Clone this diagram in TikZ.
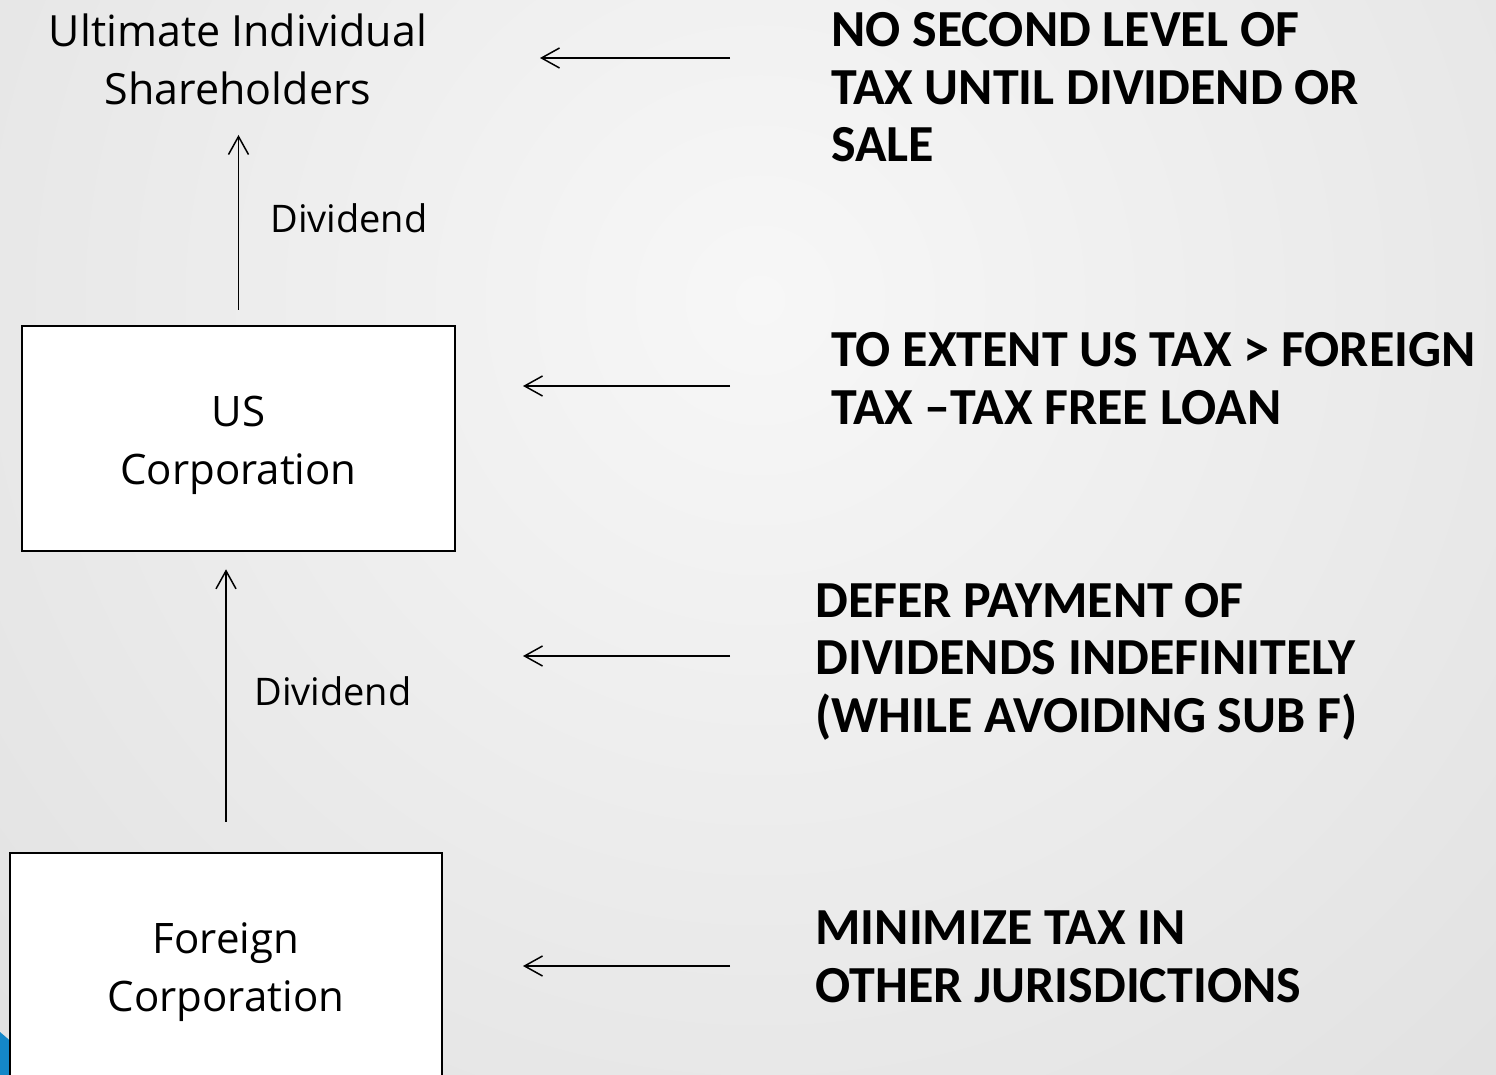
\documentclass[tikz,border=0pt]{standalone}
\usepackage{fontspec}
\setmainfont{Open Sans}
\newfontfamily\headfont{Carlito}
\usetikzlibrary{arrows.meta}
\definecolor{bgin}{HTML}{F7F7F7}
\definecolor{bgout}{HTML}{CFCFCF}
\definecolor{accent}{HTML}{1487C8}
\begin{document}
\begin{tikzpicture}[x=0.5pt,y=-0.5pt,
  entity/.style={draw=black,line width=1.3pt,fill=white,align=center,inner sep=0pt,
    font=\fontsize{21}{29}\selectfont},
  flow/.style={line width=0.75pt,-{Straight Barb[length=9pt,width=10pt]}},
  flowtext/.style={anchor=west,inner sep=0pt,font=\fontsize{19}{23}\selectfont},
  point/.style={anchor=north west,align=left,inner sep=0pt,
    font=\headfont\bfseries\fontsize{26}{28.75}\selectfont}]

% page and soft radial background
\path[use as bounding box] (0,0) rectangle (1496,1075);
\begin{scope}
  \clip (0,0) rectangle (1496,1075);
  \shade[inner color=bgin,outer color=bgout] (760,300) circle (1000pt);
  \fill[accent] (0,1032) -- (50,1075) -- (0,1075) -- cycle;
\end{scope}

% ownership chain
\node[align=center,inner sep=0pt,font=\fontsize{21.5}{29}\selectfont] (ush) at (238,59)
  {Ultimate Individual\\Shareholders};
\node[entity,minimum width=216.5pt,minimum height=112.5pt] (usc) at (238.5,438.5)
  {\rule{0pt}{22pt}US\\Corporation};
\node[entity,minimum width=216pt,minimum height=114pt] (fc) at (226,967)
  {\rule{0pt}{21pt}Foreign\\Corporation};

\coordinate (tip1) at (238.5,135);
\draw[flow] ([yshift=7.5pt]usc.north) -- (tip1);
\node[flowtext] (div1) at (270,218) {Dividend};

\draw[flow] ([yshift=15pt]fc.north) -- ([yshift=-8.5pt]fc.north |- usc.south);
\node[flowtext] (div2) at (254,691) {Dividend};

% consequences at each level
\node[point] (rt1) at (831,12.5) {NO SECOND LEVEL OF\\TAX UNTIL DIVIDEND OR\\SALE};
\node[point] (rt2) at (831,332.5) {TO EXTENT US TAX > FOREIGN\\TAX –TAX FREE LOAN};
\node[point] (rt3) at (815,582.5) {DEFER PAYMENT OF\\DIVIDENDS INDEFINITELY\\(WHILE AVOIDING SUB F)};
\node[point] (rt4) at (815,910.5) {MINIMIZE TAX IN\\OTHER JURISDICTIONS};

\coordinate (h1a) at (730,58);  \coordinate (h1b) at (540,58);
\coordinate (h2a) at (730,386); \coordinate (h2b) at (523,386);
\coordinate (h3a) at (730,656); \coordinate (h3b) at (523,656);
\coordinate (h4a) at (730,966); \coordinate (h4b) at (523,966);
\draw[flow] (h1a) -- (h1b);
\draw[flow] (h2a) -- (h2b);
\draw[flow] (h3a) -- (h3b);
\draw[flow] (h4a) -- (h4b);
\end{tikzpicture}
\end{document}
